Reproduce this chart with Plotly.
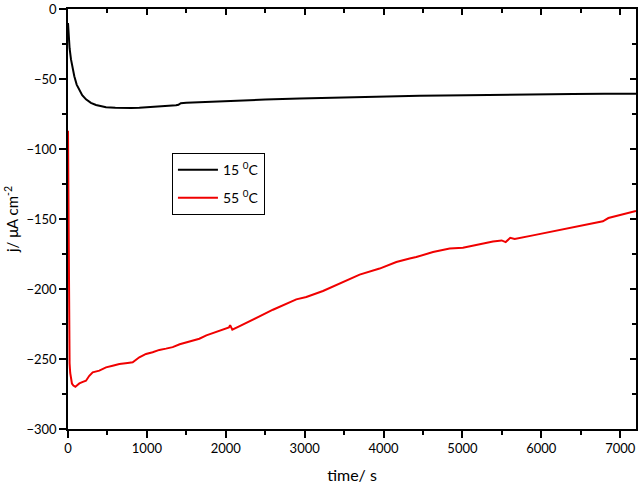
import plotly.graph_objects as go

t15 = [0, 10, 20, 38, 60, 80, 110, 144, 180, 228, 290, 355, 402, 482, 600, 700, 800, 904, 1000, 1158,
       1300, 1370, 1400, 1430, 1500, 1664, 2091, 2500, 2937, 3400, 3782, 4204, 4458, 5049, 5500, 5893,
       6400, 6800, 7200]
j15 = [-10, -20, -28, -36, -43, -48, -54, -58, -61.5, -64.5, -67, -68.6, -69.3, -70.2, -70.6, -70.8,
       -70.7, -70.5, -70.2, -69.4, -69, -68.8, -68.4, -67.3, -67.0, -66.6, -65.4, -64.7, -64.0, -63.3,
       -62.8, -62.5, -62.0, -61.6, -61.2, -61.0, -60.7, -60.6, -60.5]

t55 = [0, 3, 6, 10, 15, 20, 28, 38, 50, 68, 93, 120, 144, 180, 228, 270, 313, 397, 482, 566, 651, 756,
       820, 904, 989, 1073, 1158, 1242, 1327, 1416, 1496, 1665, 1754, 1900, 2040, 2055, 2083, 2176, 2387,
       2598, 2894, 3021, 3232, 3485, 3697, 3950, 4162, 4331, 4415, 4627, 4838, 5006, 5260, 5387, 5497,
       5548, 5606, 5662, 5894, 6317, 6780, 6850, 7200]
j55 = [-87, -130, -180, -220, -243, -253, -260, -265, -267.5, -269, -269.8, -268.5, -267.4, -266.5,
       -265.5, -262, -259.5, -258.3, -256, -254.8, -253.6, -252.9, -252.4, -248.8, -246.4, -245.2, -243.5,
       -242.6, -241.5, -239.5, -238.1, -235.5, -233.1, -230.3, -227.5, -225.8, -229.1, -226.5, -220.5,
       -214.8, -207.4, -205.7, -201.4, -195, -189.7, -185.4, -180.7, -178.2, -177.2, -173.6, -171, -170.5,
       -167.2, -166, -165.3, -166.5, -163.4, -164.3, -161.7, -156.9, -151.6, -149.3, -144.3]

x_range = [0, 7200]
y_range = [-300, 0]
x_ticks = [0, 1000, 2000, 3000, 4000, 5000, 6000, 7000]
y_ticks = [0, -50, -100, -150, -200, -250, -300]

FONT = "Lato, 'Open Sans', sans-serif"

fig = go.Figure()
fig.add_trace(go.Scatter(x=t15, y=j15, mode="lines", name="15 <sup>0</sup>C",
                         line=dict(color="#000000", width=2), legendgroup="a"))
fig.add_trace(go.Scatter(x=t55, y=j55, mode="lines", name="55 <sup>0</sup>C",
                         line=dict(color="#f00000", width=2), legendgroup="b"))
fig.add_trace(go.Scatter(x=[0, 7200], y=[0, -300], xaxis="x2", yaxis="y2", showlegend=False,
                         mode="lines", line=dict(width=0, color="rgba(0,0,0,0)"),
                         hoverinfo="skip"))

fig.update_layout(
    width=640, height=487,
    margin=dict(l=68, r=4, t=9, b=58, autoexpand=False),
    paper_bgcolor="white", plot_bgcolor="white",
    font=dict(family=FONT, size=13, color="#000000"),
    showlegend=True,
    legend=dict(x=0.183, y=0.657, xanchor="left", yanchor="top",
                bordercolor="#000000", borderwidth=1, bgcolor="white",
                font=dict(family=FONT, size=14), tracegroupgap=7, itemwidth=40,
                traceorder="grouped"),
    xaxis=dict(range=x_range, tickvals=x_ticks, ticks="outside", ticklen=7, tickwidth=1.5,
               showline=True, linecolor="#000", linewidth=1.5, showgrid=False, zeroline=False,
               minor=dict(dtick=500, ticks="outside", ticklen=4, tickwidth=1.5, tickcolor="#000"),
               tickcolor="#000", automargin=False,
               title=dict(text="time/ s", font=dict(size=16), standoff=14)),
    yaxis=dict(range=y_range, tickvals=y_ticks, ticks="outside", ticklen=7, tickwidth=1.5,
               showline=True, linecolor="#000", linewidth=1.5, showgrid=False, zeroline=False,
               minor=dict(dtick=25, ticks="outside", ticklen=4, tickwidth=1.5, tickcolor="#000"),
               tickcolor="#000", automargin=False,
               title=dict(text="j/ \u03bcA cm<sup>-2</sup>", font=dict(size=15), standoff=4)),
    xaxis2=dict(range=x_range, overlaying="x", side="top", tickvals=x_ticks, ticks="inside",
                ticklen=6, tickwidth=1.5, showticklabels=False, showline=True, linecolor="#000",
                linewidth=1.5, showgrid=False, zeroline=False, tickcolor="#000",
                minor=dict(dtick=500, ticks="inside", ticklen=4, tickwidth=1.5, tickcolor="#000")),
    yaxis2=dict(range=y_range, overlaying="y", side="right", tickvals=y_ticks, ticks="inside",
                ticklen=6, tickwidth=1.5, showticklabels=False, showline=True, linecolor="#000",
                linewidth=1.5, showgrid=False, zeroline=False, tickcolor="#000",
                minor=dict(dtick=25, ticks="inside", ticklen=4, tickwidth=1.5, tickcolor="#000")),
)

fig.write_html("out.html", config={"displayModeBar": False},
               post_script="document.body.style.margin='0';document.body.style.padding='0';"
                           "document.documentElement.style.overflow='hidden';")
